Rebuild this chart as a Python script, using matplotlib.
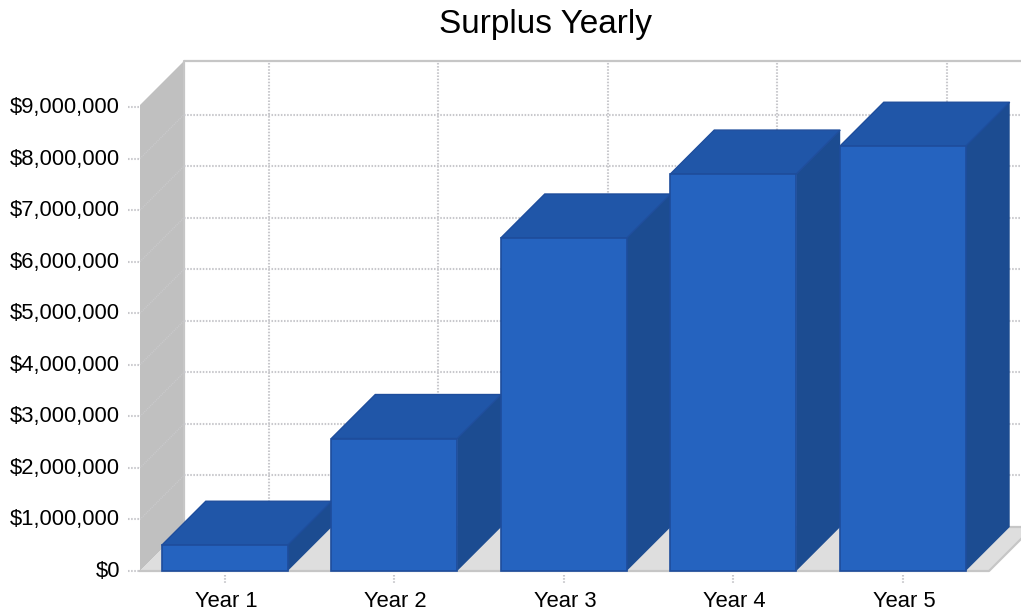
import matplotlib
matplotlib.use("Agg")
from matplotlib import pyplot as plt
from matplotlib.patches import Polygon
from matplotlib.transforms import ScaledTranslation

categories = ["Year 1", "Year 2", "Year 3", "Year 4", "Year 5"]
surplus = [500000, 2570000, 6460000, 7700000, 8240000]
y_ticks = [0, 1000000, 2000000, 3000000, 4000000, 5000000, 6000000, 7000000, 8000000, 9000000]

FIG_W, FIG_H = 1021, 613
LEFT, RIGHT, BOTTOM, TOP = 140, 987.5, 571, 105
Y_MAX = 9040000
BAR_WIDTH = 0.743

FRONT = "#2563BF"
TOP_FACE = "#2056A8"
SIDE = "#1C4C91"
EDGE = "#1E4D9C"
WALL = "#C0C0C0"
FLOOR = "#DEDEDE"
BORDER = "#C6C6C6"
GRID = "#C8C8CC"

plt.rcParams["font.family"] = ["Liberation Sans", "DejaVu Sans"]

fig = plt.figure(figsize=(FIG_W / 100, FIG_H / 100), dpi=100)
ax = fig.add_axes([LEFT / FIG_W, 1 - BOTTOM / FIG_H, (RIGHT - LEFT) / FIG_W, (BOTTOM - TOP) / FIG_H])
ax.set_xlim(-0.5, len(categories) - 0.5)
ax.set_ylim(0, Y_MAX)
ax.patch.set_visible(False)
for spine in ax.spines.values():
    spine.set_visible(False)

# pseudo-3D depth, same 44 px offset in both directions
px_x = len(categories) / (RIGHT - LEFT)
px_y = Y_MAX / (BOTTOM - TOP)
dx = 44 * px_x
dy = 44 * px_y
x0 = -0.5
x1 = len(categories) - 0.5 + 1.5 * px_x
x_far = x1 + dx


def face(points, color, edge=None, lw=0, z=1):
    ax.add_patch(Polygon(points, closed=True, facecolor=color, edgecolor=edge or color,
                         linewidth=lw, zorder=z, clip_on=False, joinstyle="miter"))


def dotted(xs, ys, color=GRID, z=2, lw=1.5):
    ax.plot(xs, ys, color=color, linewidth=lw, linestyle=(0, (0.75, 0.75)), zorder=z, clip_on=False)


# left wall and floor
face([(x0, 0), (x0, Y_MAX), (x0 + dx, Y_MAX + dy), (x0 + dx, dy)], WALL)
face([(x0, 0), (x1, 0), (x_far, dy), (x0 + dx, dy)], FLOOR)
ax.plot([x0, x1, x_far, x0 + dx], [0, 0, dy, dy], color=BORDER, linewidth=1.6, zorder=1.5, clip_on=False)
ax.plot([x0 + dx, x0 + dx, x_far], [dy, Y_MAX + dy, Y_MAX + dy], color=BORDER, linewidth=1.6, zorder=1.5, clip_on=False)

# grid on the back wall, the side wall and the tick stubs
for value in y_ticks[1:-1]:
    dotted([x0 + dx, x_far], [value + dy, value + dy])
for value in y_ticks[1:-1]:
    dotted([x0, x0 + dx], [value, value + dy], color="#CACACC", lw=1.0)
for value in y_ticks:
    dotted([x0 - 12 * px_x, x0], [value, value])
for i in range(len(categories)):
    dotted([i + dx, i + dx], [dy, Y_MAX + dy])
    dotted([i, i], [-4 * px_y, -13 * px_y])

# bars, left to right so each front covers the previous side face
for i, value in enumerate(surplus):
    left = i - BAR_WIDTH / 2
    right = i + BAR_WIDTH / 2
    z = 3 + i
    face([(right, 0), (right + dx, dy), (right + dx, value + dy), (right, value)], SIDE, z=z)
    face([(left, value), (right, value), (right + dx, value + dy), (left + dx, value + dy)],
         TOP_FACE, EDGE, 1.0, z=z)
    face([(left, 0), (right, 0), (right, value), (left, value)], FRONT, EDGE, 1.2, z=z + 0.5)

ax.set_xticks(range(len(categories)))
ax.set_xticklabels(categories, fontsize=15.8, color="#000000")
ax.set_yticks(y_ticks)
ax.set_yticklabels([f"${v:,}" for v in y_ticks], fontsize=15.8, color="#000000")
ax.tick_params(axis="x", length=0, pad=14.3)
ax.tick_params(axis="y", length=0, pad=14.4)

# small nudges for the tick text
for label in ax.get_yticklabels():
    label.set_transform(label.get_transform() + ScaledTranslation(0, 1.5 / 72, fig.dpi_scale_trans))
for label in ax.get_xticklabels():
    label.set_transform(label.get_transform() + ScaledTranslation(1 / 72, 0, fig.dpi_scale_trans))

fig.text(545.5 / FIG_W, 1 - 24 / FIG_H, "Surplus Yearly", fontsize=24, color="#000000",
         ha="center", va="center")

fig.savefig("out.png", dpi=100)
